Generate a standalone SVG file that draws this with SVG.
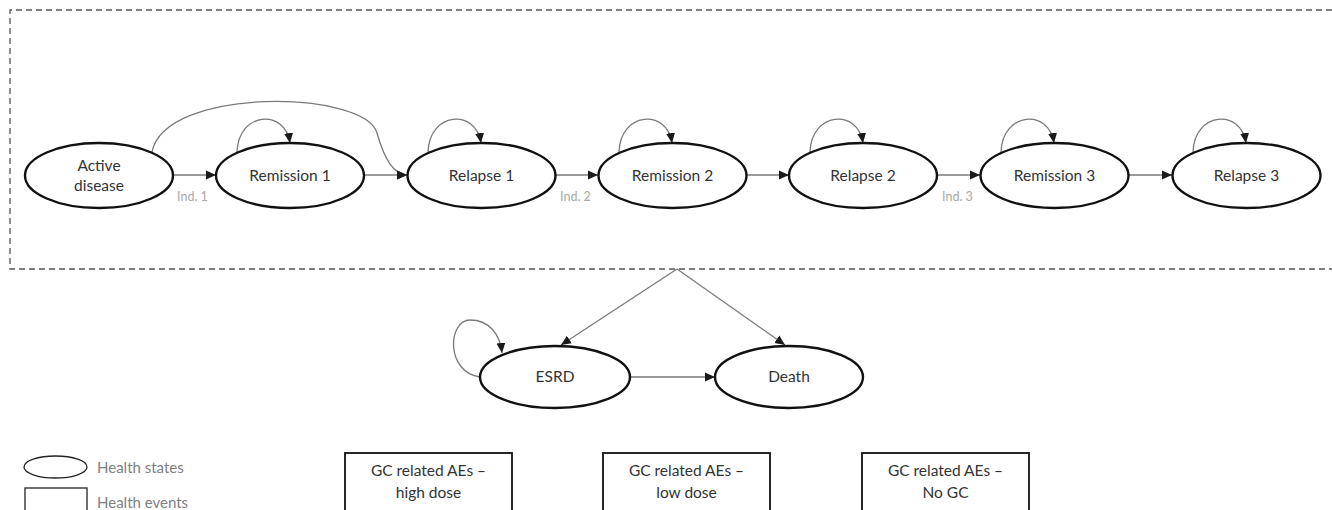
<svg xmlns="http://www.w3.org/2000/svg" width="1332" height="510" viewBox="0 0 1332 510">
<defs>
<marker id="arr" markerUnits="userSpaceOnUse" markerWidth="10" markerHeight="10" viewBox="0 0 10 10" refX="10" refY="5" orient="auto">
<path d="M0,0.5 L10,5 L0,9.5 Z" fill="#1a1a1a"/>
</marker>
</defs>
<style>
.st{fill:#fff;stroke:#111;stroke-width:2.4}
.lb{font-family:Lato,"Liberation Sans",sans-serif;font-size:15.5px;fill:#333;text-anchor:middle}
.ind{font-family:Lato,"Liberation Sans",sans-serif;font-size:12.5px;fill:#a8a8a8}
.cn{fill:none;stroke:#7a7a7a;stroke-width:1.3}
.ev{fill:#fff;stroke:#111;stroke-width:1.8}
.lg{font-family:Lato,"Liberation Sans",sans-serif;font-size:15px;fill:#808080}
</style>
<rect width="1332" height="510" fill="#fff"/>
<path d="M1332,10 H10 V269 H1332" fill="none" stroke="#555" stroke-width="1.3" stroke-dasharray="6,4"/>

<g id="connectors">
<path class="cn" marker-end="url(#arr)" d="M173,175 H216"/>
<path class="cn" marker-end="url(#arr)" d="M364,175 H407"/>
<path class="cn" marker-end="url(#arr)" d="M556,175 H598"/>
<path class="cn" marker-end="url(#arr)" d="M747,175 H789"/>
<path class="cn" marker-end="url(#arr)" d="M937,175 H980"/>
<path class="cn" marker-end="url(#arr)" d="M1129,175 H1172"/>
<path class="cn" marker-end="url(#arr)" d="M152,152 C165,86 365,90 377,133 C384,158 393,175 407,175"/>
<path class="cn" marker-end="url(#arr)" d="M237,152 C238,112 285,108 290,143"/>
<path class="cn" marker-end="url(#arr)" d="M428,152 C429,112 476,108 481,143"/>
<path class="cn" marker-end="url(#arr)" d="M619,152 C620,112 667,108 672,143"/>
<path class="cn" marker-end="url(#arr)" d="M810,152 C811,112 858,108 863,143"/>
<path class="cn" marker-end="url(#arr)" d="M1001,152 C1002,112 1049,108 1054,143"/>
<path class="cn" marker-end="url(#arr)" d="M1193,152 C1194,112 1241,108 1246,143"/>
<path class="cn" marker-end="url(#arr)" d="M677,269 L561,345"/>
<path class="cn" marker-end="url(#arr)" d="M677,269 L785,345"/>
<path class="cn" marker-end="url(#arr)" d="M631,377 H715"/>
<path class="cn" marker-end="url(#arr)" d="M480,377 C445,372 448,320 470,320 C490,320 500,335 502,353"/>
<text class="ind" x="177" y="201">Ind. 1</text>
<text class="ind" x="560" y="201">Ind. 2</text>
<text class="ind" x="942" y="201">Ind. 3</text>
</g>

<g id="active-disease"><ellipse class="st" cx="99" cy="175.5" rx="74" ry="32.5"/><text class="lb" x="99" y="171">Active</text><text class="lb" x="99" y="191">disease</text></g>
<g id="remission-1"><ellipse class="st" cx="290" cy="175.5" rx="74" ry="32.5"/><text class="lb" x="290" y="181">Remission 1</text></g>
<g id="relapse-1"><ellipse class="st" cx="481.5" cy="175.5" rx="74" ry="32.5"/><text class="lb" x="481.5" y="181">Relapse 1</text></g>
<g id="remission-2"><ellipse class="st" cx="672.5" cy="175.5" rx="74" ry="32.5"/><text class="lb" x="672.5" y="181">Remission 2</text></g>
<g id="relapse-2"><ellipse class="st" cx="863" cy="175.5" rx="74" ry="32.5"/><text class="lb" x="863" y="181">Relapse 2</text></g>
<g id="remission-3"><ellipse class="st" cx="1054.5" cy="175.5" rx="74" ry="32.5"/><text class="lb" x="1054.5" y="181">Remission 3</text></g>
<g id="relapse-3"><ellipse class="st" cx="1246.5" cy="175.5" rx="74" ry="32.5"/><text class="lb" x="1246.5" y="181">Relapse 3</text></g>
<g id="esrd"><ellipse class="st" cx="555" cy="377" rx="75" ry="31"/><text class="lb" x="555" y="382">ESRD</text></g>
<g id="death"><ellipse class="st" cx="789" cy="377" rx="74" ry="31"/><text class="lb" x="789" y="382">Death</text></g>

<g id="legend">
<ellipse cx="55.5" cy="467" rx="31.5" ry="11" fill="#fff" stroke="#222" stroke-width="1.3"/>
<text class="lg" x="97" y="473">Health states</text>
<rect x="25" y="488" width="62" height="40" fill="#fff" stroke="#222" stroke-width="1.3"/>
<text class="lg" x="97" y="508">Health events</text>
</g>

<g id="gc-high"><rect class="ev" x="345" y="453" width="167" height="80"/><text class="lb" x="428.5" y="476">GC related AEs –</text><text class="lb" x="428.5" y="498">high dose</text></g>
<g id="gc-low"><rect class="ev" x="603" y="453" width="167" height="80"/><text class="lb" x="686.5" y="476">GC related AEs –</text><text class="lb" x="686.5" y="498">low dose</text></g>
<g id="gc-none"><rect class="ev" x="862" y="453" width="167" height="80"/><text class="lb" x="945.5" y="476">GC related AEs –</text><text class="lb" x="945.5" y="498">No GC</text></g>
</svg>
